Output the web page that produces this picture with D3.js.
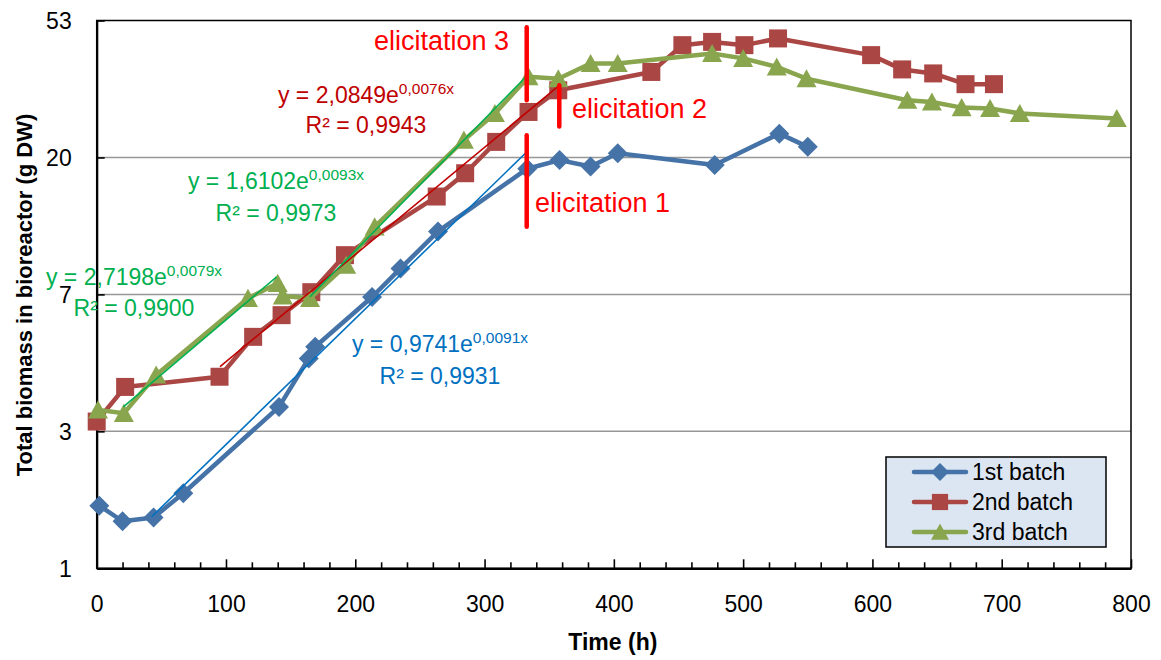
<!DOCTYPE html>
<html><head><meta charset="utf-8">
<script src="https://cdn.jsdelivr.net/npm/d3@7"></script>
<style>
body{margin:0;background:#fff}
svg{display:block}
text{font-family:"Liberation Sans",Arial,sans-serif}
</style>
</head><body>
<svg id="chart" width="1161" height="660"></svg>
<script>
// ---------------- DATA ----------------
const seriesNames = ["1st batch", "2nd batch", "3rd batch"];

const batch1Time    = [2, 20, 44, 67, 141, 164, 169, 213, 235, 264, 333, 358, 382, 403, 478, 528, 550];
const batch1Biomass = [1.58, 1.41, 1.45, 1.73, 3.25, 4.63, 5.04, 7.25, 8.93, 11.7, 18.5, 19.7, 18.8, 20.7, 19.0, 23.9, 21.7];

const batch2Time    = [0, 22, 95, 121, 143, 166, 192, 263, 285, 309, 334, 357, 429, 453, 476, 501, 527, 599, 623, 647, 672, 694];
const batch2Biomass = [2.92, 3.76, 4.05, 5.42, 6.35, 7.51, 9.84, 15.1, 17.9, 22.5, 28.0, 32.8, 37.5, 45.6, 46.7, 45.6, 47.9, 42.4, 38.2, 37.1, 34.3, 34.3];

const batch3Time    = [1, 21, 46, 117, 140, 144, 165, 193, 215, 284, 308, 334, 357, 382, 403, 476, 500, 526, 549, 627, 646, 669, 691, 714, 789];
const batch3Biomass = [3.18, 3.10, 4.10, 7.18, 8.01, 7.30, 7.18, 9.15, 12.1, 22.8, 27.7, 36.2, 35.7, 39.9, 39.9, 42.9, 41.4, 38.9, 35.7, 30.5, 30.1, 28.9, 28.7, 27.7, 26.7];

// trend lines (exponential fits): start/end time and value, equation texts
const trendNames     = ["blue", "red", "green1", "green2"];
const trendStartTime = [42.5, 95.4, 20.6, 165];
const trendStartVal  = [1.457, 4.36, 3.25, 7.26];
const trendEndTime   = [332.6, 357.8, 139.2, 332.6];
const trendEndVal    = [20.9, 34.0, 8.40, 36.4];
const trendEqBase    = ["y = 0,9741e", "y = 2,0849e", "y = 2,7198e", "y = 1,6102e"];
const trendEqExp     = ["0,0091x", "0,0076x", "0,0079x", "0,0093x"];
const trendR2        = ["R² = 0,9931", "R² = 0,9943", "R² = 0,9900", "R² = 0,9973"];

// elicitation markers
const elicitLabels  = ["elicitation 1", "elicitation 2", "elicitation 3"];
const elicitTime    = [332.6, 357.8, 332.6];
const elicitFrom    = [12.1, 25.2, 30.5];
const elicitTo      = [23.6, 34.0, 52.0];

// axes
const xTicks       = [0, 100, 200, 300, 400, 500, 600, 700, 800];
const xMinorStep   = 20;
const yTickExp     = [0, 1, 2, 3, 4];           // natural-log positions
const yTickLabels  = ["1", "3", "7", "20", "53"];
const xTitle = "Time (h)";
const yTitle = "Total biomass in bioreactor (g DW)";

// ---------------- STYLE / LAYOUT ----------------
const FONT = '"Liberation Sans", Arial, sans-serif';
const colors = ["#4572A7", "#AA4643", "#89A54E"];
const trendColors = ["#0070C0", "#C00000", "#00B050", "#00B050"];
const plot = {left: 96.7, right: 1131, top: 20.5, bottom: 568.3};

const svg = d3.select("#chart");
const x = d3.scaleLinear().domain([0, 800]).range([plot.left, plot.right]);
const y = d3.scaleLog().domain([1, Math.exp(4)]).range([plot.bottom, plot.top]);
const yTickValues = yTickExp.map(Math.exp);

// gridlines
svg.append("g").selectAll("line").data(yTickValues.slice(1, 4)).join("line")
  .attr("x1", plot.left).attr("x2", plot.right)
  .attr("y1", d => y(d)).attr("y2", d => y(d))
  .attr("stroke", "#979797").attr("stroke-width", 1.5);

// plot border (top/right)
svg.append("rect")
  .attr("x", plot.left).attr("y", plot.top)
  .attr("width", plot.right - plot.left).attr("height", plot.bottom - plot.top)
  .attr("fill", "none").attr("stroke", "#000").attr("stroke-width", 1.5);

// X axis
const xMinor = d3.range(0, 801, xMinorStep);
const gx = svg.append("g").attr("transform", `translate(0,${plot.bottom})`)
  .call(d3.axisBottom(x).tickValues(xMinor).tickSize(-6).tickSizeOuter(0)
    .tickFormat(d => xTicks.includes(d) ? String(d) : ""));
gx.attr("font-family", FONT).attr("font-size", 23);
gx.select(".domain").attr("stroke", "#000").attr("stroke-width", 2.2);
gx.selectAll(".tick line").attr("stroke", "#000").attr("stroke-width", 1.6)
  .attr("y2", d => xTicks.includes(d) ? -9 : -6);
gx.selectAll(".tick text").attr("fill", "#000").attr("y", 44).attr("dy", 0);

// Y axis
const gy = svg.append("g").attr("transform", `translate(${plot.left},0)`)
  .call(d3.axisLeft(y).tickValues(yTickValues).tickSize(-8).tickSizeOuter(0)
    .tickFormat((d, i) => yTickLabels[i]).tickPadding(25));
gy.attr("font-family", FONT).attr("font-size", 23);
gy.select(".domain").attr("stroke", "#000").attr("stroke-width", 2.2);
gy.selectAll(".tick line").attr("stroke", "#000").attr("stroke-width", 1.6);
gy.selectAll(".tick text").attr("fill", "#000").attr("dy", "0.35em");

// axis titles
svg.append("text").attr("x", (plot.left + plot.right) / 2 - 1).attr("y", 650)
  .attr("text-anchor", "middle").attr("font-weight", "bold").attr("font-size", 23)
  .text(xTitle);
svg.append("text").attr("transform", `translate(32,295) rotate(-90)`)
  .attr("text-anchor", "middle").attr("font-weight", "bold").attr("font-size", 22)
  .text(yTitle);

// marker shapes
function markerPath(kind, s) {
  if (kind === 0) return `M0,${-s}L${s},0L0,${s}L${-s},0Z`;
  if (kind === 1) { const h = s * 0.9; return `M${-h},${-h}H${h}V${h}H${-h}Z`; }
  const w = s, hh = s * 0.95;
  return `M0,${-hh}L${w},${hh * 0.9}L${-w},${hh * 0.9}Z`;
}

const series = [
  batch1Time.map((t, i) => ({t, v: batch1Biomass[i]})),
  batch2Time.map((t, i) => ({t, v: batch2Biomass[i]})),
  batch3Time.map((t, i) => ({t, v: batch3Biomass[i]}))
];
const line = d3.line().x(d => x(d.t)).y(d => y(d.v));

series.forEach((data, k) => {
  const g = svg.append("g");
  g.append("path").datum(data).attr("d", line)
    .attr("fill", "none").attr("stroke", colors[k]).attr("stroke-width", 4.5)
    .attr("stroke-linejoin", "round").attr("stroke-linecap", "round");
  g.selectAll("path.m").data(data).join("path").attr("class", "m")
    .attr("transform", d => `translate(${x(d.t)},${y(d.v)})`)
    .attr("d", markerPath(k, 10))
    .attr("fill", colors[k]);
});

// trend lines
trendNames.forEach((n, i) => {
  svg.append("line")
    .attr("x1", x(trendStartTime[i])).attr("y1", y(trendStartVal[i]))
    .attr("x2", x(trendEndTime[i])).attr("y2", y(trendEndVal[i]))
    .attr("stroke", trendColors[i]).attr("stroke-width", 1.6);
});

// elicitation lines
elicitLabels.forEach((n, i) => {
  svg.append("line")
    .attr("x1", x(elicitTime[i])).attr("x2", x(elicitTime[i]))
    .attr("y1", y(elicitFrom[i])).attr("y2", y(elicitTo[i]))
    .attr("stroke", "#FF0000").attr("stroke-width", 4.5).attr("stroke-linecap", "round");
});

// elicitation labels
const elicitPos = [[535, 212], [572, 118], [374, 50]];
elicitLabels.forEach((n, i) => {
  svg.append("text").attr("x", elicitPos[i][0]).attr("y", elicitPos[i][1])
    .attr("fill", "#FF0000").attr("font-size", 27).text(n);
});

// equation labels
const eqPos = [[440, 352, 384], [366, 103, 133], [134, 285, 316], [276, 189, 221]];
trendNames.forEach((n, i) => {
  const t = svg.append("text").attr("x", eqPos[i][0]).attr("y", eqPos[i][1])
    .attr("text-anchor", "middle").attr("fill", trendColors[i]).attr("font-size", 23);
  t.append("tspan").text(trendEqBase[i]);
  t.append("tspan").attr("font-size", 15.5).attr("dy", -9).text(trendEqExp[i]);
  svg.append("text").attr("x", eqPos[i][0]).attr("y", eqPos[i][2])
    .attr("text-anchor", "middle").attr("fill", trendColors[i]).attr("font-size", 23)
    .text(trendR2[i]);
});

// legend
const lg = svg.append("g");
lg.append("rect").attr("x", 886).attr("y", 457).attr("width", 220).attr("height", 90)
  .attr("fill", "#DCE6F2").attr("stroke", "#000").attr("stroke-width", 1.5);
seriesNames.forEach((n, k) => {
  const yy = 472 + k * 30;
  lg.append("line").attr("x1", 914).attr("x2", 966).attr("y1", yy).attr("y2", yy)
    .attr("stroke", colors[k]).attr("stroke-width", 4.5).attr("stroke-linecap", "round");
  lg.append("path").attr("transform", `translate(940,${yy})`).attr("d", markerPath(k, 9))
    .attr("fill", colors[k]);
  lg.append("text").attr("x", 972).attr("y", yy + 8).attr("font-size", 23).text(n);
});
</script>
</body></html>
